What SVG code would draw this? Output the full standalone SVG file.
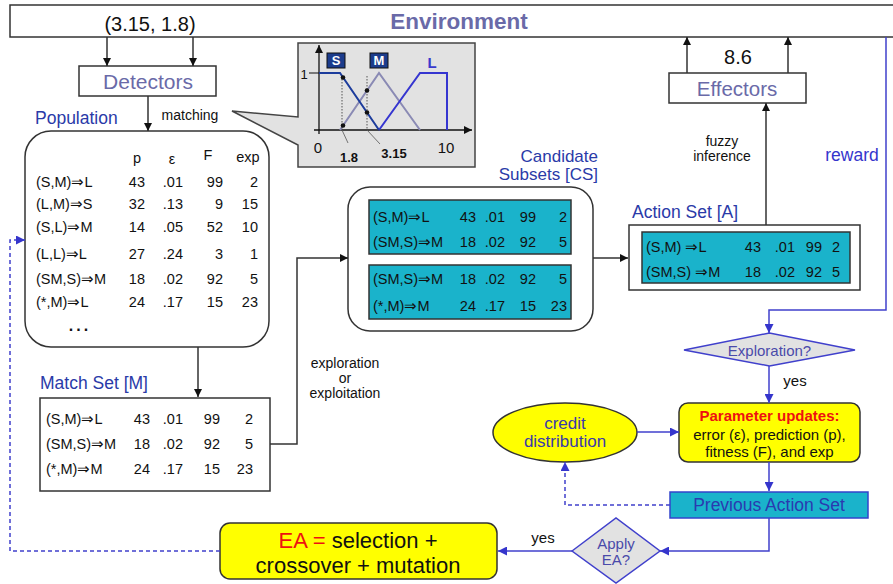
<svg xmlns="http://www.w3.org/2000/svg" width="893" height="584" viewBox="0 0 893 584">
<style>
text{font-family:"Liberation Sans",Arial,sans-serif;fill:#111}
.c{text-anchor:middle;dominant-baseline:central}
.e{text-anchor:end;dominant-baseline:central}
.s{text-anchor:start;dominant-baseline:central}
.t{font-size:14.5px}
.lbl{font-size:17.5px;fill:#2a3aa8}
.sm{font-size:14px}
.md{font-size:15px}
.box{fill:#fff;stroke:#333;stroke-width:1.5}
.cy{fill:#1ab3cb;stroke:#333;stroke-width:1.5}
.yl{fill:#ffff00;stroke:#333;stroke-width:1.5}
.k{fill:none;stroke:#333;stroke-width:1.5}
.b{fill:none;stroke:#4040cc;stroke-width:1.5}
.bd{fill:none;stroke:#4040cc;stroke-width:1.5;stroke-dasharray:4,3}
.ka{marker-end:url(#ak)}
.ba{marker-end:url(#ab)}
.dia{fill:#e2e2e2;stroke:#4040cc;stroke-width:1.5}
</style>
<defs>
<marker id="ak" viewBox="0 0 10 10" refX="10" refY="5" markerWidth="8" markerHeight="8" markerUnits="userSpaceOnUse" orient="auto"><path d="M0,0L10,5L0,10z" fill="#111"/></marker>
<marker id="ab" viewBox="0 0 10 10" refX="10" refY="5" markerWidth="9" markerHeight="9" markerUnits="userSpaceOnUse" orient="auto"><path d="M0,0L10,5L0,10z" fill="#3535cc"/></marker>
</defs>
<rect width="893" height="584" fill="#fff"/>

<g id="environment">
<rect x="10" y="5" width="900" height="32" class="box"/>
<text x="459" y="21" class="c" style="font-size:22.5px;font-weight:bold;fill:#6a6aa8">Environment</text>
<text x="150" y="24" class="c" style="font-size:20px">(3.15, 1.8)</text>
</g>

<g id="detectors">
<rect x="79" y="66" width="137" height="30" class="box"/>
<text x="148" y="81" class="c" style="font-size:21px;fill:#6a6aa8">Detectors</text>
</g>

<g id="effectors">
<rect x="669" y="73" width="137" height="30" class="box"/>
<text x="737" y="88" class="c" style="font-size:20.5px;fill:#6a6aa8">Effectors</text>
<text x="738" y="57" class="c" style="font-size:20px">8.6</text>
</g>

<g id="callout">
<path d="M298,43H475V167H298V145L232,111L298,117Z" fill="#e2e2e2" stroke="#444" stroke-width="1.5"/>
<path d="M319,134V45" stroke="#111" stroke-width="1.3" fill="none" marker-end="url(#ak)"/>
<path d="M314,130H472" stroke="#111" stroke-width="1.3" fill="none" marker-end="url(#ak)"/>
<path d="M309,73H319" stroke="#111" stroke-width="1"/>
<path d="M340,130L379,73L420,130" fill="none" stroke="#8a8ab4" stroke-width="2"/>
<path d="M379,130L420,73H447V130" fill="none" stroke="#3535d0" stroke-width="2"/>
<path d="M319,73H340L379,130" fill="none" stroke="#1c3c9c" stroke-width="2"/>
<path d="M342,76V130M367,76V130" stroke="#555" stroke-width="1" stroke-dasharray="1.5,1.5" fill="none"/>
<path d="M342,130L348,143M367,130L380,144" stroke="#555" stroke-width="0.8" fill="none"/>
<circle cx="343" cy="77.5" r="2.3" fill="#111"/>
<circle cx="343" cy="125.5" r="2.3" fill="#111"/>
<circle cx="367" cy="90.5" r="2.3" fill="#111"/>
<circle cx="367" cy="112.5" r="2.3" fill="#111"/>
<rect x="327" y="53" width="18" height="15" fill="#1c3c8c" stroke="#111"/>
<text x="336" y="60.5" class="c" style="font-size:13px;font-weight:bold;fill:#fff">S</text>
<rect x="370" y="53" width="18" height="15" fill="#1c3c8c" stroke="#111"/>
<text x="379" y="60.5" class="c" style="font-size:13px;font-weight:bold;fill:#fff">M</text>
<text x="432" y="62" class="c" style="font-size:15px;font-weight:bold;fill:#3a3acc">L</text>
<text x="304" y="74" class="c" style="font-size:13px">1</text>
<text x="318" y="147" class="c" style="font-size:15px">0</text>
<text x="446" y="147" class="c" style="font-size:15px">10</text>
<text x="349" y="157" class="c" style="font-size:13px;font-weight:bold">1.8</text>
<text x="394" y="153" class="c" style="font-size:13px;font-weight:bold">3.15</text>
</g>

<g id="population">
<text x="35" y="118" class="s lbl">Population</text>
<rect x="25" y="131" width="244" height="216" rx="26" class="box"/>
<g class="t">
<text x="137" y="158" class="c">p</text>
<text x="172" y="159" class="c">ε</text>
<text x="208" y="155" class="c">F</text>
<text x="248" y="157" class="c">exp</text>
<text x="36" y="182" class="s">(S,M)⇒L</text><text x="145" y="182" class="e">43</text><text x="183" y="182" class="e">.01</text><text x="223" y="182" class="e">99</text><text x="258" y="182" class="e">2</text>
<text x="36" y="204" class="s">(L,M)⇒S</text><text x="145" y="204" class="e">32</text><text x="183" y="204" class="e">.13</text><text x="223" y="204" class="e">9</text><text x="258" y="204" class="e">15</text>
<text x="36" y="227" class="s">(S,L)⇒M</text><text x="145" y="227" class="e">14</text><text x="183" y="227" class="e">.05</text><text x="223" y="227" class="e">52</text><text x="258" y="227" class="e">10</text>
<text x="36" y="254" class="s">(L,L)⇒L</text><text x="145" y="254" class="e">27</text><text x="183" y="254" class="e">.24</text><text x="223" y="254" class="e">3</text><text x="258" y="254" class="e">1</text>
<text x="36" y="279" class="s">(SM,S)⇒M</text><text x="145" y="279" class="e">18</text><text x="183" y="279" class="e">.02</text><text x="223" y="279" class="e">92</text><text x="258" y="279" class="e">5</text>
<text x="36" y="302" class="s">(*,M)⇒L</text><text x="145" y="302" class="e">24</text><text x="183" y="302" class="e">.17</text><text x="223" y="302" class="e">15</text><text x="258" y="302" class="e">23</text>
<text x="80" y="325" class="c" style="font-size:16px;font-weight:bold;letter-spacing:3px">...</text>
</g>
</g>

<g id="matchset">
<text x="40" y="383" class="s lbl">Match Set [M]</text>
<rect x="40" y="398" width="230" height="93" class="box"/>
<g class="t">
<text x="46" y="419" class="s">(S,M)⇒L</text><text x="150" y="419" class="e">43</text><text x="183" y="419" class="e">.01</text><text x="220" y="419" class="e">99</text><text x="253" y="419" class="e">2</text>
<text x="46" y="444" class="s">(SM,S)⇒M</text><text x="150" y="444" class="e">18</text><text x="183" y="444" class="e">.02</text><text x="220" y="444" class="e">92</text><text x="253" y="444" class="e">5</text>
<text x="46" y="469" class="s">(*,M)⇒M</text><text x="150" y="469" class="e">24</text><text x="183" y="469" class="e">.17</text><text x="220" y="469" class="e">15</text><text x="253" y="469" class="e">23</text>
</g>
</g>

<g id="candidates">
<text x="598" y="156" class="e" style="font-size:17px;fill:#2a3aa8">Candidate</text>
<text x="598" y="174" class="e" style="font-size:17px;fill:#2a3aa8">Subsets [CS]</text>
<rect x="348" y="187" width="245" height="144" rx="22" class="box"/>
<rect x="369" y="200" width="202" height="54" class="cy"/>
<rect x="369" y="265" width="202" height="54" class="cy"/>
<g class="t">
<text x="373" y="217" class="s">(S,M)⇒L</text><text x="476" y="217" class="e">43</text><text x="505" y="217" class="e">.01</text><text x="536" y="217" class="e">99</text><text x="567" y="217" class="e">2</text>
<text x="373" y="242" class="s">(SM,S)⇒M</text><text x="476" y="242" class="e">18</text><text x="505" y="242" class="e">.02</text><text x="536" y="242" class="e">92</text><text x="567" y="242" class="e">5</text>
<text x="373" y="279" class="s">(SM,S)⇒M</text><text x="476" y="279" class="e">18</text><text x="505" y="279" class="e">.02</text><text x="536" y="279" class="e">92</text><text x="567" y="279" class="e">5</text>
<text x="373" y="306" class="s">(*,M)⇒M</text><text x="476" y="306" class="e">24</text><text x="505" y="306" class="e">.17</text><text x="536" y="306" class="e">15</text><text x="567" y="306" class="e">23</text>
</g>
</g>

<g id="actionset">
<text x="632" y="212" class="s lbl">Action Set [A]</text>
<rect x="629" y="225" width="231" height="65" class="box"/>
<rect x="642" y="232" width="208" height="51" class="cy"/>
<g class="t">
<text x="646" y="247" class="s">(S,M) ⇒L</text><text x="761" y="247" class="e">43</text><text x="795" y="247" class="e">.01</text><text x="822" y="247" class="e">99</text><text x="840" y="247" class="e">2</text>
<text x="646" y="272" class="s">(SM,S) ⇒M</text><text x="761" y="272" class="e">18</text><text x="795" y="272" class="e">.02</text><text x="822" y="272" class="e">92</text><text x="840" y="272" class="e">5</text>
</g>
</g>

<g id="exploration">
<path d="M684,350L769.5,333L855,350L769.5,366Z" class="dia"/>
<text x="769.5" y="350" class="c md" style="fill:#4a4aaa">Exploration?</text>
</g>

<g id="parameters">
<rect x="679" y="403" width="181" height="59" rx="9" class="yl"/>
<text x="769.5" y="415" class="c md" style="font-weight:bold;fill:#ee1111">Parameter updates:</text>
<text x="769.5" y="434" class="c md">error (ε), prediction (p),</text>
<text x="769.5" y="451" class="c md">fitness (F), and exp</text>
</g>

<g id="credit">
<ellipse cx="565" cy="432.5" rx="72" ry="29.5" class="yl"/>
<text x="565" y="423" class="c" style="font-size:17px;fill:#3a3aaa">credit</text>
<text x="565" y="441" class="c" style="font-size:17px;fill:#3a3aaa">distribution</text>
</g>

<g id="previous">
<rect x="670" y="492" width="198" height="26" fill="#1ab3cb" stroke="#3344cc" stroke-width="1.5"/>
<text x="769" y="505" class="c" style="font-size:17.5px;fill:#2a3ab0">Previous Action Set</text>
</g>

<g id="applyea">
<path d="M572,551L616,518L660,551L616,583Z" class="dia"/>
<text x="616" y="543" class="c md" style="fill:#4a4aaa">Apply</text>
<text x="616" y="559" class="c md" style="fill:#4a4aaa">EA?</text>
</g>

<g id="ea">
<rect x="220" y="523" width="277" height="56" rx="10" class="yl"/>
<text x="358" y="540" class="c" style="font-size:22px"><tspan style="fill:#ee1111">EA =</tspan> selection +</text>
<text x="358" y="565" class="c" style="font-size:22px">crossover + mutation</text>
</g>

<g id="connectors">
<path d="M107,37V66" class="k ka"/>
<path d="M193,37V66" class="k ka"/>
<path d="M148,96V131" class="k ka"/>
<path d="M687,73V37" class="k ka"/>
<path d="M788,73V37" class="k ka"/>
<path d="M766,225V103" class="k ka"/>
<path d="M198,347V397" class="k ka"/>
<path d="M593,258H628" class="k ka"/>
<path d="M270,444H297V258H348" class="k ka"/>
<path d="M886,37V310H769V333" class="b ba"/>
<path d="M769,366V403" class="b ba"/>
<path d="M637,432H679" class="b ba"/>
<path d="M769,462V491" class="b ba"/>
<path d="M572,551H498" class="b ba"/>
<path d="M769,518V551H660" class="b ba"/>
<path d="M670,505H565V462" class="bd ba"/>
<path d="M220,551H10V240H25" class="bd ba" stroke-dasharray="2,2"/>
<text x="190" y="115" class="c sm">matching</text>
<text x="345" y="363" class="c sm">exploration</text>
<text x="345" y="378" class="c sm">or</text>
<text x="345" y="393" class="c sm">exploitation</text>
<text x="722" y="141" class="c sm">fuzzy</text>
<text x="722" y="156" class="c sm">inference</text>
<text x="852" y="155" class="c" style="font-size:17.5px;fill:#3535cc">reward</text>
<text x="795" y="380" class="c md">yes</text>
<text x="543" y="537" class="c md">yes</text>
</g>
</svg>
